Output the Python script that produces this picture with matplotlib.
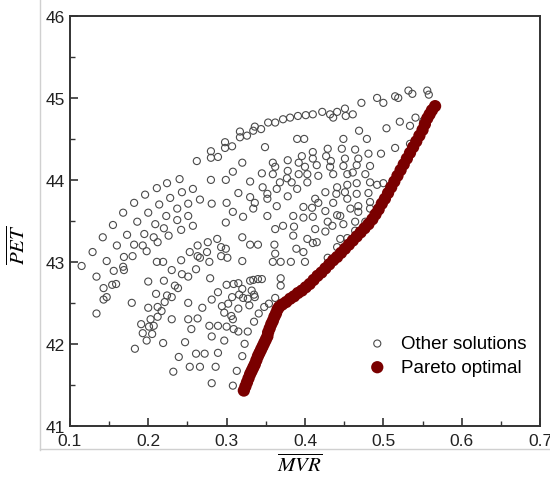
import matplotlib.pyplot as plt
from matplotlib.lines import Line2D

plt.rcParams['font.family'] = ['Liberation Sans', 'DejaVu Sans']
plt.rcParams['mathtext.fontset'] = 'stix'

# other (dominated) solutions
other_x = [
    # upper arc
    0.262, 0.280, 0.280, 0.289, 0.298, 0.298, 0.307, 0.317, 0.317, 0.326, 0.334, 0.336,
    0.344, 0.353, 0.362, 0.372, 0.381, 0.391, 0.401, 0.410, 0.422, 0.432, 0.436, 0.441,
    0.451, 0.452, 0.461, 0.472, 0.492, 0.500, 0.515, 0.519, 0.532, 0.537, 0.556, 0.558,
    # upper middle
    0.240, 0.224, 0.211, 0.196, 0.182, 0.214, 0.228, 0.243, 0.257, 0.251, 0.266, 0.280,
    0.299, 0.308, 0.281, 0.300, 0.315, 0.330, 0.345, 0.346, 0.352, 0.330, 0.334, 0.352,
    0.364, 0.368, 0.359, 0.362, 0.378, 0.377, 0.383, 0.390, 0.392, 0.378, 0.364, 0.385,
    0.352, 0.308, 0.321, 0.320, 0.349, 0.390, 0.378, 0.359, 0.392, 0.336, 0.168, 0.200,
    0.237, 0.223, 0.251,
    # left wedge
    0.155, 0.142, 0.129, 0.115, 0.147, 0.160, 0.173, 0.186, 0.209, 0.195, 0.182, 0.169,
    0.180, 0.193, 0.198, 0.207, 0.220, 0.237, 0.257, 0.242, 0.226, 0.212, 0.211, 0.219,
    0.242, 0.253, 0.263, 0.263, 0.168,
    0.288, 0.293, 0.299, 0.276, 0.275, 0.266, 0.293, 0.301, 0.278, 0.299,
    # lower left
    0.134, 0.143, 0.154, 0.159, 0.147, 0.143, 0.134, 0.156, 0.169, 0.179, 0.200, 0.210,
    0.220, 0.200, 0.212, 0.224, 0.230, 0.243, 0.251, 0.261, 0.234, 0.238, 0.230, 0.221,
    0.217, 0.203, 0.212, 0.191, 0.207, 0.201, 0.193, 0.205, 0.198, 0.183, 0.219, 0.230,
    0.251, 0.251, 0.255, 0.247, 0.239, 0.232, 0.253, 0.261,
    0.279, 0.269, 0.281, 0.289, 0.300, 0.294, 0.297, 0.302, 0.289, 0.278, 0.281, 0.297,
    0.272, 0.289, 0.266, 0.286, 0.281, 0.300, 0.263,
    # lower band near the front
    0.308, 0.313, 0.320, 0.323, 0.327, 0.335, 0.341, 0.348, 0.354, 0.362, 0.369, 0.369,
    0.345, 0.340, 0.334, 0.330, 0.320, 0.359, 0.369, 0.382, 0.361, 0.362, 0.389, 0.385,
    0.362, 0.372, 0.386, 0.320, 0.330, 0.340, 0.309, 0.307, 0.316, 0.321, 0.327, 0.335,
    0.315, 0.306, 0.315, 0.315, 0.320, 0.332, 0.336, 0.329, 0.309, 0.308,
    # right dense block
    0.469, 0.479, 0.504, 0.521, 0.534, 0.541, 0.551, 0.515, 0.534, 0.497, 0.449, 0.399,
    0.410, 0.429, 0.447, 0.464, 0.481, 0.396, 0.410, 0.427, 0.433, 0.451, 0.468, 0.483,
    0.400, 0.415, 0.432, 0.449, 0.466, 0.403, 0.417, 0.436, 0.454, 0.461, 0.477, 0.403,
    0.441, 0.454, 0.466, 0.483, 0.492, 0.500, 0.426, 0.440, 0.451, 0.466, 0.481, 0.413,
    0.417, 0.436, 0.454, 0.468, 0.483, 0.398, 0.409, 0.426, 0.441, 0.445, 0.458, 0.468,
    0.483, 0.410, 0.398, 0.429, 0.449, 0.464, 0.477, 0.413, 0.426, 0.435, 0.403, 0.410,
    0.415, 0.445, 0.398, 0.400, 0.441, 0.429, 0.464, 0.454,
]
other_y = [
    44.23, 44.35, 44.27, 44.28, 44.46, 44.39, 44.41, 44.59, 44.52, 44.54, 44.60, 44.65,
    44.62, 44.70, 44.70, 44.74, 44.76, 44.78, 44.79, 44.80, 44.83, 44.80, 44.76, 44.83,
    44.87, 44.78, 44.80, 44.94, 45.00, 44.94, 45.02, 45.00, 45.09, 45.05, 45.09, 45.04,
    44.01, 43.96, 43.90, 43.82, 43.72, 43.70, 43.78, 43.85, 43.89, 43.71, 43.76, 44.00,
    44.00, 44.10, 43.71, 43.72, 43.84, 43.98, 44.08, 43.91, 43.83, 43.79, 43.65, 43.77,
    43.89, 43.97, 44.07, 44.16, 44.11, 44.02, 43.97, 43.89, 44.07, 43.80, 43.68, 43.56,
    43.56, 43.61, 43.55, 44.21, 44.40, 44.50, 44.24, 44.21, 44.21, 43.72, 43.60, 43.60,
    43.65, 43.56, 43.56,
    43.45, 43.30, 43.12, 42.95, 43.01, 43.20, 43.33, 43.49, 43.46, 43.34, 43.21, 43.06,
    43.07, 43.20, 43.13, 43.30, 43.41, 43.51, 43.44, 43.39, 43.32, 43.24, 43.00, 43.00,
    43.02, 43.12, 43.20, 43.07, 42.94,
    43.28, 43.18, 43.16, 43.24, 43.12, 43.05, 43.07, 43.05, 43.00, 43.48,
    42.82, 42.68, 42.72, 42.73, 42.57, 42.54, 42.37, 42.89, 42.90, 42.50, 42.76, 42.61,
    42.77, 42.44, 42.45, 42.59, 42.90, 42.85, 42.82, 42.91, 42.71, 42.68, 42.57, 42.51,
    42.40, 42.30, 42.33, 42.24, 42.22, 42.21, 42.13, 42.12, 42.04, 41.94, 42.01, 42.30,
    42.50, 42.30, 42.18, 42.02, 41.84, 41.66, 41.72, 41.88,
    42.80, 42.44, 42.54, 42.63, 42.72, 42.46, 42.38, 42.49, 42.22, 42.22, 42.09, 42.04,
    41.88, 41.89, 41.72, 41.72, 41.52, 42.21, 42.31,
    41.49, 41.67, 41.85, 42.00, 42.15, 42.27, 42.37, 42.45, 42.49, 42.56, 42.71, 42.80,
    42.79, 42.79, 42.78, 42.77, 43.01, 43.00, 43.00, 43.00, 43.21, 43.10, 43.16, 43.32,
    43.40, 43.44, 43.43, 43.30, 43.21, 43.21, 42.73, 42.57, 42.60, 42.56, 42.55, 42.60,
    42.43, 42.34, 42.15, 42.74, 42.67, 42.65, 42.57, 42.47, 42.18, 42.30,
    44.60, 44.50, 44.63, 44.71, 44.66, 44.76, 44.72, 44.39, 44.44, 44.32, 44.50, 44.50,
    44.34, 44.38, 44.38, 44.37, 44.32, 44.29, 44.26, 44.29, 44.23, 44.26, 44.26, 44.17,
    44.16, 44.18, 44.16, 44.17, 44.18, 44.07, 44.05, 44.07, 44.07, 44.09, 44.07, 43.97,
    43.91, 43.94, 43.96, 43.97, 43.94, 43.96, 43.85, 43.83, 43.85, 43.83, 43.84, 43.77,
    43.72, 43.72, 43.77, 43.68, 43.73, 43.67, 43.66, 43.62, 43.57, 43.56, 43.65, 43.61,
    43.65, 43.55, 43.54, 43.49, 43.46, 43.49, 43.49, 43.40, 43.37, 43.44, 43.28, 43.23,
    43.24, 43.28, 43.12, 43.00, 43.18, 43.05, 43.38, 43.29,
]

# Pareto optimal front
pareto_x = [
    0.322, 0.324, 0.326, 0.328, 0.330, 0.332, 0.334, 0.336, 0.338, 0.340, 0.342, 0.344,
    0.346, 0.348, 0.350, 0.352, 0.353, 0.355, 0.357, 0.359, 0.361, 0.363, 0.365, 0.367,
    0.371, 0.376, 0.381, 0.386, 0.391, 0.396, 0.401, 0.406, 0.411, 0.416, 0.421, 0.426,
    0.431, 0.436, 0.441, 0.446, 0.451, 0.456, 0.461, 0.466, 0.471, 0.476, 0.481, 0.486,
    0.490, 0.494, 0.498, 0.502, 0.506, 0.510, 0.514, 0.518, 0.522, 0.526, 0.530, 0.534,
    0.538, 0.542, 0.546, 0.550, 0.553, 0.556, 0.559, 0.562, 0.566,
]
pareto_y = [
    41.43, 41.48, 41.53, 41.58, 41.63, 41.67, 41.71, 41.75, 41.80, 41.85, 41.89, 41.93,
    41.97, 42.01, 42.05, 42.09, 42.14, 42.19, 42.24, 42.28, 42.33, 42.37, 42.42, 42.45,
    42.48, 42.51, 42.55, 42.58, 42.62, 42.65, 42.69, 42.73, 42.78, 42.83, 42.87, 42.92,
    42.97, 43.02, 43.06, 43.11, 43.16, 43.21, 43.26, 43.31, 43.36, 43.41, 43.46, 43.52,
    43.58, 43.64, 43.71, 43.77, 43.84, 43.91, 43.98, 44.05, 44.12, 44.19, 44.26, 44.33,
    44.40, 44.47, 44.54, 44.61, 44.68, 44.75, 44.80, 44.85, 44.90,
]

fig = plt.figure(figsize=(5.5, 4.85), dpi=100)
ax = fig.add_axes([0.127, 0.12, 0.855, 0.845])

ax.scatter(other_x, other_y, s=26, facecolors='none', edgecolors='#4a4a4a',
           linewidths=0.8, label='Other solutions', zorder=2)
ax.scatter(pareto_x, pareto_y, s=78, color='#7a0000', edgecolors='none',
           label='Pareto optimal', zorder=3)

ax.set_xlim(0.1, 0.7)
ax.set_ylim(41, 46)
ax.set_xticks([0.1, 0.2, 0.3, 0.4, 0.5, 0.6, 0.7])
ax.set_xticks([0.15, 0.25, 0.35, 0.45, 0.55, 0.65], minor=True)
ax.set_yticks([41, 42, 43, 44, 45, 46])
ax.set_yticks([41.5, 42.5, 43.5, 44.5, 45.5], minor=True)
ax.tick_params(which='both', direction='in', top=False, right=False,
               labelsize=12.5, colors='#333333', labelcolor='#222222')
ax.tick_params(which='major', length=6, width=1.2)
ax.tick_params(which='minor', length=3.5, width=1.0)
ax.tick_params(axis='x', pad=5)
for sp in ax.spines.values():
    sp.set_linewidth(1.4)
    sp.set_color('#333333')

ax.set_xlabel(r'$\overline{MVR}$', fontsize=15)
ax.set_ylabel(r'$\overline{PET}$', fontsize=15)
ax.xaxis.set_label_coords(0.489, -0.066)
ax.yaxis.set_label_coords(-0.088, 0.445)

ax.legend(loc='lower left', bbox_to_anchor=(0.578, 0.08), frameon=False,
          fontsize=13.5, handletextpad=0.25, labelspacing=0.35, markerscale=1.0)

# faint border lines left over from the original figure crop
fig.add_artist(Line2D([0.073, 0.073], [0.07, 1.0], color='#d0d0d0', lw=1))
fig.add_artist(Line2D([0.073, 1.0], [0.072, 0.072], color='#d0d0d0', lw=1))

fig.savefig('out.png', dpi=100)
